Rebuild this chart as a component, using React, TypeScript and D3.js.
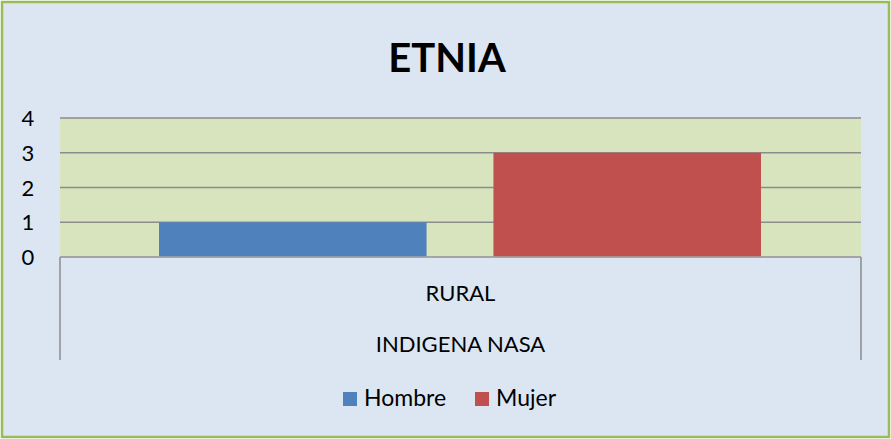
import React from "react";
import * as d3 from "d3";

const title = "ETNIA";
const categories = ["RURAL"];
const groupLabel = "INDIGENA NASA";
const seriesNames = ["Hombre", "Mujer"];
const seriesColors = ["#4F81BD", "#C0504D"];
const hombre = [1];
const mujer = [3];
const yTicks = [0, 1, 2, 3, 4];

const W = 891, H = 439;
const font = "Lato, 'Open Sans', sans-serif";

export default function App() {
  const left = 60, right = 861, top = 118, bottom = 257;
  const y = d3.scaleLinear().domain([0, 4]).range([bottom, top]);
  const x0 = d3.scaleBand<string>().domain(categories).range([left, right]).paddingInner(0).paddingOuter(0);
  const x1 = d3.scaleBand<string>().domain(seriesNames).range([99, x0.bandwidth() - 100]).paddingInner(0.2).paddingOuter(0);
  const values = [hombre, mujer];
  const legendX = [343, 475];
  return (
    <svg width={W} height={H} style={{ position: "absolute", left: 0, top: 0 }} fontFamily={font}>
      <rect x={2} y={2} width={W - 4} height={H - 4} fill="#DCE6F2" stroke="#9BBB59" strokeWidth={2.5} />
      <text x={447} y={72} textAnchor="middle" fontSize={40} fontWeight="bold" fill="#000">{title}</text>
      <rect x={left} y={top} width={right - left} height={bottom - top} fill="#D7E4BD" />
      {yTicks.map((t) => (
        <g key={t}>
          <line x1={left} x2={right} y1={y(t)} y2={y(t)} stroke="#8C8C8C" strokeWidth={1.5} />
          <text x={28} y={y(t) + 8} textAnchor="middle" fontSize={22} fill="#000">{t}</text>
        </g>
      ))}
      {categories.map((c, ci) =>
        seriesNames.map((s, si) => {
          const v = values[si][ci];
          const bx = (x0(c) ?? 0) + (x1(s) ?? 0);
          return <rect key={s} x={bx} y={y(v)} width={x1.bandwidth()} height={y(0) - y(v)} fill={seriesColors[si]} />;
        })
      )}
      <line x1={left} x2={right} y1={bottom} y2={bottom} stroke="#A6A6A6" strokeWidth={1.5} />
      <line x1={left} x2={left} y1={bottom} y2={360} stroke="#8C8C8C" strokeWidth={1.5} />
      <line x1={right} x2={right} y1={bottom} y2={360} stroke="#8C8C8C" strokeWidth={1.5} />
      {categories.map((c) => (
        <text key={c} x={(x0(c) ?? 0) + x0.bandwidth() / 2} y={301} textAnchor="middle" fontSize={22} fill="#000">{c}</text>
      ))}
      <text x={(left + right) / 2} y={352} textAnchor="middle" fontSize={22} fill="#000">{groupLabel}</text>
      {seriesNames.map((s, i) => {
        const lx = legendX[i];
        return (
          <g key={s}>
            <rect x={lx} y={392} width={14} height={14} fill={seriesColors[i]} />
            <text x={lx + 21} y={406} fontSize={23} fill="#000">{s}</text>
          </g>
        );
      })}
    </svg>
  );
}
